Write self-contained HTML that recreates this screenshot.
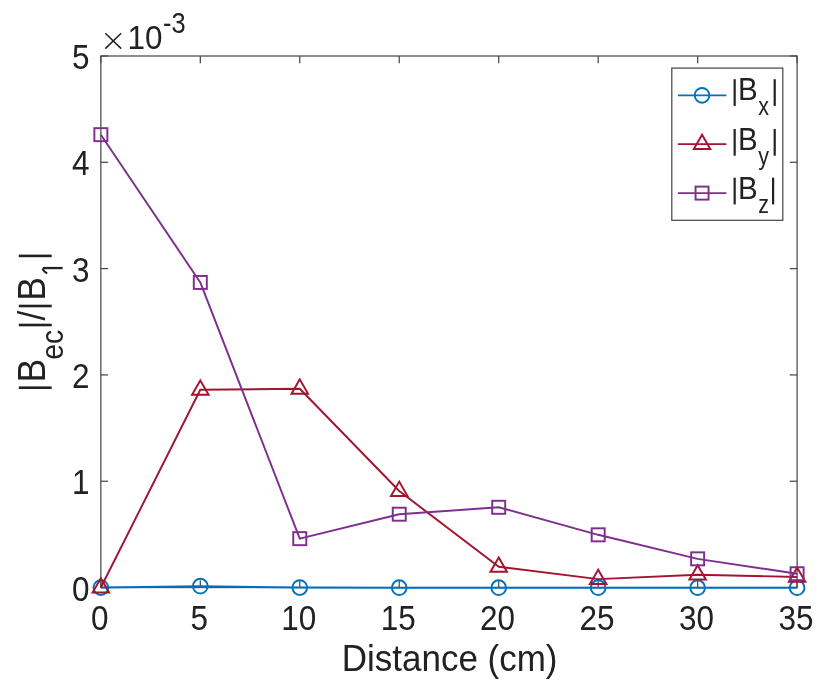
<!DOCTYPE html><html><head><meta charset="utf-8"><style>html,body{margin:0;padding:0;background:#fff;overflow:hidden}svg{display:block;filter:blur(0.3px)}text{font-family:"Liberation Sans",sans-serif;fill:#222}</style></head><body>
<svg width="831" height="695" viewBox="0 0 831 695">
<rect width="831" height="695" fill="#fff"/>
<g id="all">
<rect x="100.85" y="56.0" width="696.25" height="531.55" fill="none" stroke="#4a4a4a" stroke-width="1.25"/>
<line x1="100.85" y1="587.55" x2="100.85" y2="580.25" stroke="#4a4a4a" stroke-width="1.25"/>
<line x1="100.85" y1="56.0" x2="100.85" y2="63.3" stroke="#4a4a4a" stroke-width="1.25"/>
<text transform="translate(99.75,630.00) scale(1.0,1.087)" font-size="31.5" text-anchor="middle">0</text>
<line x1="200.31" y1="587.55" x2="200.31" y2="580.25" stroke="#4a4a4a" stroke-width="1.25"/>
<line x1="200.31" y1="56.0" x2="200.31" y2="63.3" stroke="#4a4a4a" stroke-width="1.25"/>
<text transform="translate(199.21,630.00) scale(1.0,1.087)" font-size="31.5" text-anchor="middle">5</text>
<line x1="299.78" y1="587.55" x2="299.78" y2="580.25" stroke="#4a4a4a" stroke-width="1.25"/>
<line x1="299.78" y1="56.0" x2="299.78" y2="63.3" stroke="#4a4a4a" stroke-width="1.25"/>
<text transform="translate(298.68,630.00) scale(1.0,1.087)" font-size="31.5" text-anchor="middle">10</text>
<line x1="399.24" y1="587.55" x2="399.24" y2="580.25" stroke="#4a4a4a" stroke-width="1.25"/>
<line x1="399.24" y1="56.0" x2="399.24" y2="63.3" stroke="#4a4a4a" stroke-width="1.25"/>
<text transform="translate(398.14,630.00) scale(1.0,1.087)" font-size="31.5" text-anchor="middle">15</text>
<line x1="498.71" y1="587.55" x2="498.71" y2="580.25" stroke="#4a4a4a" stroke-width="1.25"/>
<line x1="498.71" y1="56.0" x2="498.71" y2="63.3" stroke="#4a4a4a" stroke-width="1.25"/>
<text transform="translate(497.61,630.00) scale(1.0,1.087)" font-size="31.5" text-anchor="middle">20</text>
<line x1="598.17" y1="587.55" x2="598.17" y2="580.25" stroke="#4a4a4a" stroke-width="1.25"/>
<line x1="598.17" y1="56.0" x2="598.17" y2="63.3" stroke="#4a4a4a" stroke-width="1.25"/>
<text transform="translate(597.07,630.00) scale(1.0,1.087)" font-size="31.5" text-anchor="middle">25</text>
<line x1="697.64" y1="587.55" x2="697.64" y2="580.25" stroke="#4a4a4a" stroke-width="1.25"/>
<line x1="697.64" y1="56.0" x2="697.64" y2="63.3" stroke="#4a4a4a" stroke-width="1.25"/>
<text transform="translate(696.54,630.00) scale(1.0,1.087)" font-size="31.5" text-anchor="middle">30</text>
<line x1="797.10" y1="587.55" x2="797.10" y2="580.25" stroke="#4a4a4a" stroke-width="1.25"/>
<line x1="797.10" y1="56.0" x2="797.10" y2="63.3" stroke="#4a4a4a" stroke-width="1.25"/>
<text transform="translate(796.00,630.00) scale(1.0,1.087)" font-size="31.5" text-anchor="middle">35</text>
<line x1="100.85" y1="587.55" x2="108.14999999999999" y2="587.55" stroke="#4a4a4a" stroke-width="1.25"/>
<line x1="797.1" y1="587.55" x2="789.8000000000001" y2="587.55" stroke="#4a4a4a" stroke-width="1.25"/>
<text transform="translate(89.50,600.65) scale(1.0,1.087)" font-size="31.5" text-anchor="end">0</text>
<line x1="100.85" y1="481.24" x2="108.14999999999999" y2="481.24" stroke="#4a4a4a" stroke-width="1.25"/>
<line x1="797.1" y1="481.24" x2="789.8000000000001" y2="481.24" stroke="#4a4a4a" stroke-width="1.25"/>
<text transform="translate(89.50,494.34) scale(1.0,1.087)" font-size="31.5" text-anchor="end">1</text>
<line x1="100.85" y1="374.93" x2="108.14999999999999" y2="374.93" stroke="#4a4a4a" stroke-width="1.25"/>
<line x1="797.1" y1="374.93" x2="789.8000000000001" y2="374.93" stroke="#4a4a4a" stroke-width="1.25"/>
<text transform="translate(89.50,388.03) scale(1.0,1.087)" font-size="31.5" text-anchor="end">2</text>
<line x1="100.85" y1="268.62" x2="108.14999999999999" y2="268.62" stroke="#4a4a4a" stroke-width="1.25"/>
<line x1="797.1" y1="268.62" x2="789.8000000000001" y2="268.62" stroke="#4a4a4a" stroke-width="1.25"/>
<text transform="translate(89.50,281.72) scale(1.0,1.087)" font-size="31.5" text-anchor="end">3</text>
<line x1="100.85" y1="162.31" x2="108.14999999999999" y2="162.31" stroke="#4a4a4a" stroke-width="1.25"/>
<line x1="797.1" y1="162.31" x2="789.8000000000001" y2="162.31" stroke="#4a4a4a" stroke-width="1.25"/>
<text transform="translate(89.50,175.41) scale(1.0,1.087)" font-size="31.5" text-anchor="end">4</text>
<line x1="100.85" y1="56.00" x2="108.14999999999999" y2="56.00" stroke="#4a4a4a" stroke-width="1.25"/>
<line x1="797.1" y1="56.00" x2="789.8000000000001" y2="56.00" stroke="#4a4a4a" stroke-width="1.25"/>
<text transform="translate(89.50,69.10) scale(1.0,1.087)" font-size="31.5" text-anchor="end">5</text>
<path d="M105.3 33.2 L121.2 48.6 M121.2 33.2 L105.3 48.6" stroke="#222" stroke-width="1.5" fill="none"/>
<text transform="translate(127.50,49.20) scale(1.0,1.07)" font-size="31.5" text-anchor="start">10</text>
<text transform="translate(163.00,33.40) scale(1.0,1.13)" font-size="25.4" text-anchor="start">-3</text>
<text transform="translate(449.60,671.00) scale(1.0,1.05)" font-size="35" text-anchor="middle">Distance (cm)</text>
<rect x="18.8" y="386.40" width="32.9" height="2.6" fill="#222"/>
<rect x="18.8" y="323.70" width="32.9" height="2.6" fill="#222"/>
<rect x="18.8" y="304.70" width="32.9" height="2.6" fill="#222"/>
<rect x="18.8" y="254.60" width="32.9" height="2.6" fill="#222"/>
<text transform="translate(45.20,382.56) rotate(-90) scale(1.0,1.09)" font-size="35.5" text-anchor="start">B</text>
<text transform="translate(63.00,359.74) rotate(-90) scale(1.0,1.09)" font-size="28.4" text-anchor="start">ec</text>
<text transform="translate(45.20,320.40) rotate(-90) scale(1.0,1.09)" font-size="35.5" text-anchor="start">/</text>
<text transform="translate(45.20,300.66) rotate(-90) scale(1.0,1.09)" font-size="35.5" text-anchor="start">B</text>
<path d="M42.9 268.05 H62.6" stroke="#222" stroke-width="2.3" fill="none"/>
<path d="M42.4 268.6 Q44.6 272.6 47.3 273.4" stroke="#222" stroke-width="2.0" fill="none"/>
<polyline points="100.85,587.55 200.31,586.17 299.78,587.55 399.24,587.66 498.71,587.66 598.17,587.66 697.64,587.66 797.10,587.66" fill="none" stroke="#0072BD" stroke-width="1.95" stroke-linejoin="round"/>
<circle cx="100.85" cy="587.55" r="7.35" fill="none" stroke="#0072BD" stroke-width="1.95"/>
<circle cx="200.31" cy="586.17" r="7.35" fill="none" stroke="#0072BD" stroke-width="1.95"/>
<circle cx="299.78" cy="587.55" r="7.35" fill="none" stroke="#0072BD" stroke-width="1.95"/>
<circle cx="399.24" cy="587.66" r="7.35" fill="none" stroke="#0072BD" stroke-width="1.95"/>
<circle cx="498.71" cy="587.66" r="7.35" fill="none" stroke="#0072BD" stroke-width="1.95"/>
<circle cx="598.17" cy="587.66" r="7.35" fill="none" stroke="#0072BD" stroke-width="1.95"/>
<circle cx="697.64" cy="587.66" r="7.35" fill="none" stroke="#0072BD" stroke-width="1.95"/>
<circle cx="797.10" cy="587.66" r="7.35" fill="none" stroke="#0072BD" stroke-width="1.95"/>
<polyline points="100.85,587.55 200.31,389.81 299.78,388.75 399.24,491.02 498.71,566.82 598.17,579.15 697.64,574.69 797.10,576.92" fill="none" stroke="#A2142F" stroke-width="1.95" stroke-linejoin="round"/>
<polygon points="100.85,578.15 92.60,592.45 109.10,592.45" fill="none" stroke="#A2142F" stroke-width="1.95"/>
<polygon points="200.31,380.41 192.06,394.71 208.56,394.71" fill="none" stroke="#A2142F" stroke-width="1.95"/>
<polygon points="299.78,379.35 291.53,393.65 308.03,393.65" fill="none" stroke="#A2142F" stroke-width="1.95"/>
<polygon points="399.24,481.62 390.99,495.92 407.49,495.92" fill="none" stroke="#A2142F" stroke-width="1.95"/>
<polygon points="498.71,557.42 490.46,571.72 506.96,571.72" fill="none" stroke="#A2142F" stroke-width="1.95"/>
<polygon points="598.17,569.75 589.92,584.05 606.42,584.05" fill="none" stroke="#A2142F" stroke-width="1.95"/>
<polygon points="697.64,565.29 689.39,579.59 705.89,579.59" fill="none" stroke="#A2142F" stroke-width="1.95"/>
<polygon points="797.10,567.52 788.85,581.82 805.35,581.82" fill="none" stroke="#A2142F" stroke-width="1.95"/>
<polyline points="100.85,134.67 200.31,282.44 299.78,538.65 399.24,514.20 498.71,507.29 598.17,534.82 697.64,558.85 797.10,573.73" fill="none" stroke="#7E2F8E" stroke-width="1.95" stroke-linejoin="round"/>
<rect x="94.35" y="128.17" width="13.0" height="13.0" fill="none" stroke="#7E2F8E" stroke-width="1.95"/>
<rect x="193.81" y="275.94" width="13.0" height="13.0" fill="none" stroke="#7E2F8E" stroke-width="1.95"/>
<rect x="293.28" y="532.15" width="13.0" height="13.0" fill="none" stroke="#7E2F8E" stroke-width="1.95"/>
<rect x="392.74" y="507.70" width="13.0" height="13.0" fill="none" stroke="#7E2F8E" stroke-width="1.95"/>
<rect x="492.21" y="500.79" width="13.0" height="13.0" fill="none" stroke="#7E2F8E" stroke-width="1.95"/>
<rect x="591.67" y="528.32" width="13.0" height="13.0" fill="none" stroke="#7E2F8E" stroke-width="1.95"/>
<rect x="691.14" y="552.35" width="13.0" height="13.0" fill="none" stroke="#7E2F8E" stroke-width="1.95"/>
<rect x="790.60" y="567.23" width="13.0" height="13.0" fill="none" stroke="#7E2F8E" stroke-width="1.95"/>
<rect x="671.8" y="68.1" width="111.0" height="152.2" fill="#fff" stroke="#4a4a4a" stroke-width="1.25"/>
<line x1="677.9" y1="95.35" x2="726.4" y2="95.35" stroke="#0072BD" stroke-width="1.95"/>
<circle cx="702.05" cy="95.35" r="7.35" fill="none" stroke="#0072BD" stroke-width="1.95"/>
<rect x="733.56" y="79.20" width="2.2" height="26.7" fill="#222"/>
<rect x="773.60" y="79.20" width="2.2" height="26.7" fill="#222"/>
<text transform="translate(738.00,100.20) scale(1.0,1.07)" font-size="29.5" text-anchor="start">B</text>
<text transform="translate(758.30,114.80) scale(1.0,1.17)" font-size="21.5" text-anchor="start">x</text>
<line x1="677.9" y1="144.1" x2="726.4" y2="144.1" stroke="#A2142F" stroke-width="1.95"/>
<polygon points="702.05,134.70 693.80,149.00 710.30,149.00" fill="none" stroke="#A2142F" stroke-width="1.95"/>
<rect x="733.56" y="129.00" width="2.2" height="26.7" fill="#222"/>
<rect x="773.60" y="129.00" width="2.2" height="26.7" fill="#222"/>
<text transform="translate(738.00,150.00) scale(1.0,1.07)" font-size="29.5" text-anchor="start">B</text>
<text transform="translate(758.30,164.60) scale(1.0,1.17)" font-size="21.5" text-anchor="start">y</text>
<line x1="677.9" y1="193.1" x2="726.4" y2="193.1" stroke="#7E2F8E" stroke-width="1.95"/>
<rect x="695.55" y="186.60" width="13.0" height="13.0" fill="none" stroke="#7E2F8E" stroke-width="1.95"/>
<rect x="733.56" y="177.70" width="2.2" height="26.7" fill="#222"/>
<rect x="772.00" y="177.70" width="2.2" height="26.7" fill="#222"/>
<text transform="translate(738.00,198.70) scale(1.0,1.07)" font-size="29.5" text-anchor="start">B</text>
<text transform="translate(758.30,213.30) scale(1.0,1.17)" font-size="21.5" text-anchor="start">z</text>
</g>
</svg></body></html>
